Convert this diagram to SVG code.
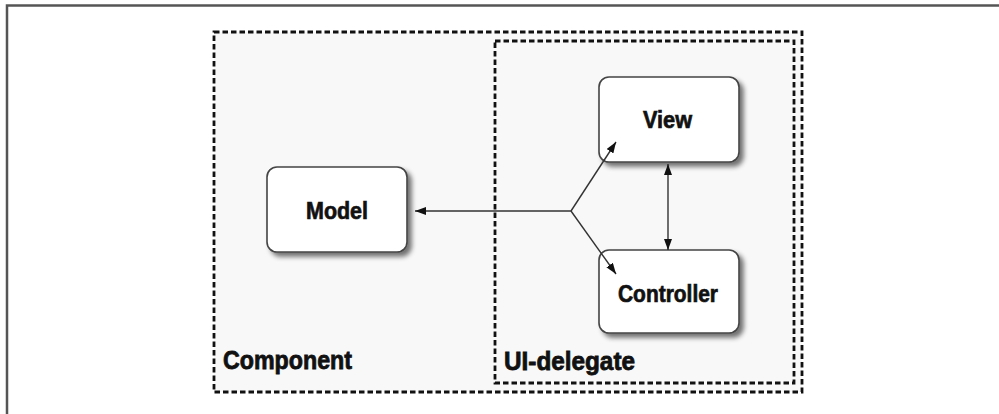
<svg xmlns="http://www.w3.org/2000/svg" width="999" height="414" viewBox="0 0 999 414">
<defs>
<filter id="sh" x="-20%" y="-20%" width="150%" height="150%">
<feGaussianBlur in="SourceAlpha" stdDeviation="2.5"/>
<feOffset dx="4" dy="4" result="b"/>
<feComponentTransfer><feFuncA type="linear" slope="0.55"/></feComponentTransfer>
<feMerge><feMergeNode/><feMergeNode in="SourceGraphic"/></feMerge>
</filter>
<marker id="ah" viewBox="0 0 11 8" refX="11" refY="4" markerWidth="11" markerHeight="8" markerUnits="userSpaceOnUse" orient="auto-start-reverse">
<path d="M0,0 L11,4 L0,8 Z" fill="#111"/>
</marker>
</defs>
<style>
.frame{fill:none;stroke:#555;stroke-width:2.5}
.grp{fill:none;stroke:#111;stroke-width:2.8;stroke-dasharray:5.5 3}
.node{fill:#fff;stroke:#444;stroke-width:1.6}
.lbl{font-family:"Liberation Sans",Arial,sans-serif;font-weight:bold;font-size:24px;fill:#111;stroke:#111;stroke-width:0.7}
.big{font-family:"Liberation Sans",Arial,sans-serif;font-weight:bold;font-size:25px;fill:#111;stroke:#111;stroke-width:0.8}
.con{fill:none;stroke:#333;stroke-width:1.4}
</style>
<rect width="999" height="414" fill="#fff"/>
<path class="frame" d="M7,414 V5.5 H999"/>
<g id="component">
<rect x="214" y="32" width="588" height="360" fill="#f8f8f8" stroke="none"/>
<rect class="grp" x="214" y="32" width="588" height="360"/>
<text class="big" x="223" y="369" textLength="129" lengthAdjust="spacingAndGlyphs">Component</text>
</g>
<g id="ui-delegate">
<rect class="grp" x="495" y="41" width="299" height="342"/>
<text class="big" x="504" y="370" textLength="131" lengthAdjust="spacingAndGlyphs">UI-delegate</text>
</g>
<g id="model">
<rect class="node" x="267" y="167" width="140" height="85" rx="10" filter="url(#sh)"/>
<text class="lbl" x="306" y="219" textLength="62" lengthAdjust="spacingAndGlyphs">Model</text>
</g>
<g id="view">
<rect class="node" x="599" y="77" width="140" height="85" rx="10" filter="url(#sh)"/>
<text class="lbl" x="643" y="128" textLength="49" lengthAdjust="spacingAndGlyphs">View</text>
</g>
<g id="controller">
<rect class="node" x="599" y="250" width="140" height="83" rx="10" filter="url(#sh)"/>
<text class="lbl" x="618" y="302" textLength="100" lengthAdjust="spacingAndGlyphs">Controller</text>
</g>
<g id="connectors">
<line class="con" x1="571" y1="211" x2="415" y2="211" marker-end="url(#ah)"/>
<line class="con" x1="571" y1="211" x2="616" y2="142" marker-end="url(#ah)"/>
<line class="con" x1="571" y1="211" x2="616" y2="274" marker-end="url(#ah)"/>
<line class="con" x1="668" y1="164" x2="668" y2="250" marker-start="url(#ah)" marker-end="url(#ah)"/>
</g>
</svg>
